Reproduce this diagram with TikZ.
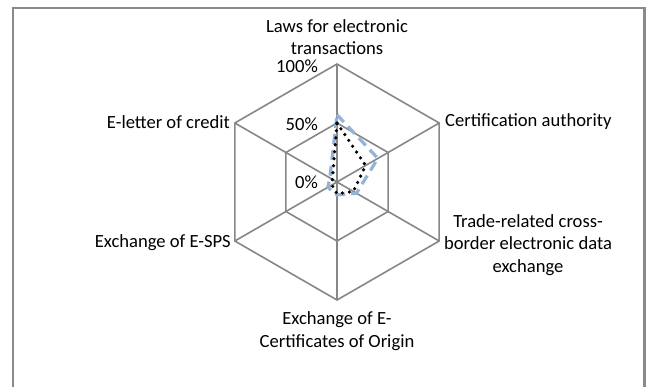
\documentclass[tikz,border=0pt]{standalone}
\usepackage{fontspec}
\setmainfont{Carlito}
\definecolor{gridgray}{HTML}{878787}
\definecolor{framegray}{HTML}{8A8A8A}
\definecolor{serblue}{HTML}{95B3D7}
\tikzset{
  lbl/.style={font=\fontsize{18.6}{22.5}\selectfont, inner sep=0pt, text=black},
  gridline/.style={draw=gridgray, line width=1.6pt},
  serA/.style={draw=serblue, line width=3.2pt, dash pattern=on 10pt off 6pt, line join=round},
  serB/.style={draw=black, line width=3.6pt, dash pattern=on 0pt off 7pt, line cap=round},
}
\begin{document}
\begin{tikzpicture}[x=1pt,y=-1pt]
\useasboundingbox (0,0) rectangle (648,387);
\begin{scope}
\clip (0,0) rectangle (648,387);
\fill[white] (0,0) rectangle (648,387);
\draw[draw=framegray, line width=2.2pt] (13,8) rectangle (644.5,420);
\end{scope}
\begin{scope}[shift={(337,182)}]
  \coordinate (c) at (0,0);
  \foreach \n/\a in {1/-90,2/-30,3/30,4/90,5/150,6/210} {
    \coordinate (o\n) at (\a:118);
    \coordinate (i\n) at (\a:59);
  }
  \draw[gridline] (o1) -- (o2) -- (o3) -- (o4) -- (o5) -- (o6) -- cycle;
  \draw[gridline] (i1) -- (i2) -- (i3) -- (i4) -- (i5) -- (i6) -- cycle;
  \foreach \n in {1,...,6} \draw[gridline] (c) -- (o\n);
  % series 1 (blue dashed)
  \draw[serA] (-90:{0.57*118}) -- (-30:{0.40*118}) -- (30:{0.19*118}) -- (90:{0.11*118}) -- (150:{0.09*118}) -- (210:{0.07*118}) -- cycle;
  % series 2 (black dotted)
  \draw[serB] (-90:{0.50*118}) -- (-30:{0.28*118}) -- (30:{0.16*118}) -- (90:{0.10*118}) -- (150:{0.05*118}) -- (210:{0.045*118}) -- cycle;
\end{scope}
\node[lbl, align=center] (laws) at (337,37) {Laws for electronic\\transactions};
\node[lbl, anchor=east] (p100) at (318,66) {100\%};
\node[lbl, anchor=east] (p50) at (318,124) {50\%};
\node[lbl, anchor=east] (p0) at (318,182) {0\%};
\node[lbl, anchor=west] (cert) at (445,122) {Certification authority};
\node[lbl, align=center] (trade) at (528,245) {Trade-related cross-\\border electronic data\\exchange};
\node[lbl, align=center] (ecert) at (337,331) {Exchange of E-\\Certificates of Origin};
\node[lbl, anchor=east] (sps) at (231,243) {Exchange of E-SPS};
\node[lbl, anchor=east] (lc) at (230,122) {E-letter of credit};
\end{tikzpicture}
\end{document}
